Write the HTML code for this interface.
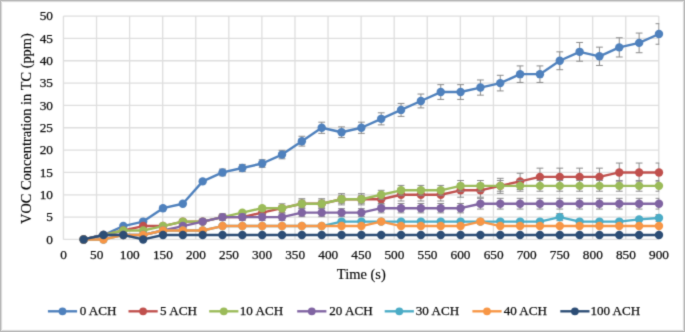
<!DOCTYPE html>
<html><head><meta charset="utf-8"><style>
html,body{margin:0;padding:0;background:#fff;}
body{width:685px;height:332px;overflow:hidden;}
svg{display:block;font-family:"Liberation Serif",serif;}
text{stroke-width:0.25px;}
</style></head><body>
<svg width="685" height="332" viewBox="0 0 685 332">
<rect x="0" y="0" width="685" height="332" fill="#fff"/>
<rect x="0.5" y="0.5" width="684" height="331" fill="none" stroke="#bababa" stroke-width="1"/>
<rect x="1.5" y="1.5" width="682" height="329" fill="none" stroke="#dadada" stroke-width="1"/>
<rect x="2.5" y="2.5" width="680" height="327" fill="none" stroke="#f6f6f6" stroke-width="1"/>
<defs><filter id="bl" x="0" y="0" width="685" height="332" filterUnits="userSpaceOnUse" color-interpolation-filters="sRGB"><feConvolveMatrix order="3" kernelMatrix="0.0192 0.1001 0.0192 0.1001 0.5228 0.1001 0.0192 0.1001 0.0192" divisor="1.0000" edgeMode="duplicate"/></filter></defs>
<g filter="url(#bl)">
<rect x="3" y="3" width="679" height="326" fill="#fff"/>
<path d="M63.45 16.10V239.45M96.53 16.10V239.45M129.60 16.10V239.45M162.68 16.10V239.45M195.75 16.10V239.45M228.82 16.10V239.45M261.90 16.10V239.45M294.98 16.10V239.45M328.05 16.10V239.45M361.12 16.10V239.45M394.20 16.10V239.45M427.27 16.10V239.45M460.35 16.10V239.45M493.42 16.10V239.45M526.50 16.10V239.45M559.58 16.10V239.45M592.65 16.10V239.45M625.73 16.10V239.45M658.80 16.10V239.45M63.45 239.45H658.80M63.45 217.11H658.80M63.45 194.78H658.80M63.45 172.44H658.80M63.45 150.11H658.80M63.45 127.77H658.80M63.45 105.44H658.80M63.45 83.10H658.80M63.45 60.77H658.80M63.45 38.44H658.80M63.45 16.10H658.80" stroke="#dedede" stroke-width="1.3" fill="none"/>
<defs><clipPath id="pc"><rect x="63.45" y="15.60" width="595.85" height="224.35"/></clipPath></defs>
<g>
<polyline points="83.64,239.45 103.48,234.98 123.32,226.05 143.16,221.58 163.00,208.18 182.83,203.71 202.67,181.38 222.51,172.44 242.35,167.98 262.19,163.51 282.03,154.58 301.87,141.18 321.71,127.77 341.55,132.24 361.38,127.77 381.22,118.84 401.06,109.91 420.90,100.97 440.74,92.04 460.58,92.04 480.42,87.57 500.26,83.10 520.10,74.17 539.94,74.17 559.77,60.77 579.61,51.84 599.45,56.30 619.29,47.37 639.13,42.90 658.97,33.97" fill="none" stroke="#4f81bd" stroke-width="2.4" stroke-linejoin="round" stroke-linecap="round"/>
<path d="M222.51 169.09V175.80M219.11 169.09H225.91M219.11 175.80H225.91M242.35 164.40V171.55M238.95 164.40H245.75M238.95 171.55H245.75M262.19 159.71V167.31M258.79 159.71H265.59M258.79 167.31H265.59M282.03 150.33V158.82M278.63 150.33H285.43M278.63 158.82H285.43M301.87 136.26V146.09M298.47 136.26H305.27M298.47 146.09H305.27M321.71 122.19V133.36M318.31 122.19H325.11M318.31 133.36H325.11M341.55 126.88V137.60M338.15 126.88H344.95M338.15 137.60H344.95M361.38 122.19V133.36M357.99 122.19H364.78M357.99 133.36H364.78M381.22 112.81V124.87M377.82 112.81H384.62M377.82 124.87H384.62M401.06 103.43V116.38M397.66 103.43H404.46M397.66 116.38H404.46M420.90 94.05V107.90M417.50 94.05H424.30M417.50 107.90H424.30M440.74 84.67V99.41M437.34 84.67H444.14M437.34 99.41H444.14M460.58 84.67V99.41M457.18 84.67H463.98M457.18 99.41H463.98M480.42 79.98V95.17M477.02 79.98H483.82M477.02 95.17H483.82M500.26 75.29V90.92M496.86 75.29H503.66M496.86 90.92H503.66M520.10 65.91V82.43M516.70 65.91H523.50M516.70 82.43H523.50M539.94 65.91V82.43M536.54 65.91H543.34M536.54 82.43H543.34M559.77 51.84V69.70M556.38 51.84H563.17M556.38 69.70H563.17M579.61 42.46V61.22M576.21 42.46H583.01M576.21 61.22H583.01M599.45 47.15V65.46M596.05 47.15H602.85M596.05 65.46H602.85M619.29 37.76V56.97M615.89 37.76H622.69M615.89 56.97H622.69M639.13 33.07V52.73M635.73 33.07H642.53M635.73 52.73H642.53M658.97 23.69V44.24M655.57 23.69H662.37M655.57 44.24H662.37" stroke="#8a8a8a" stroke-width="1" fill="none" clip-path="url(#pc)"/>
<g fill="#4f81bd"><circle cx="83.64" cy="239.45" r="4.2"/><circle cx="103.48" cy="234.98" r="4.2"/><circle cx="123.32" cy="226.05" r="4.2"/><circle cx="143.16" cy="221.58" r="4.2"/><circle cx="163.00" cy="208.18" r="4.2"/><circle cx="182.83" cy="203.71" r="4.2"/><circle cx="202.67" cy="181.38" r="4.2"/><circle cx="222.51" cy="172.44" r="4.2"/><circle cx="242.35" cy="167.98" r="4.2"/><circle cx="262.19" cy="163.51" r="4.2"/><circle cx="282.03" cy="154.58" r="4.2"/><circle cx="301.87" cy="141.18" r="4.2"/><circle cx="321.71" cy="127.77" r="4.2"/><circle cx="341.55" cy="132.24" r="4.2"/><circle cx="361.38" cy="127.77" r="4.2"/><circle cx="381.22" cy="118.84" r="4.2"/><circle cx="401.06" cy="109.91" r="4.2"/><circle cx="420.90" cy="100.97" r="4.2"/><circle cx="440.74" cy="92.04" r="4.2"/><circle cx="460.58" cy="92.04" r="4.2"/><circle cx="480.42" cy="87.57" r="4.2"/><circle cx="500.26" cy="83.10" r="4.2"/><circle cx="520.10" cy="74.17" r="4.2"/><circle cx="539.94" cy="74.17" r="4.2"/><circle cx="559.77" cy="60.77" r="4.2"/><circle cx="579.61" cy="51.84" r="4.2"/><circle cx="599.45" cy="56.30" r="4.2"/><circle cx="619.29" cy="47.37" r="4.2"/><circle cx="639.13" cy="42.90" r="4.2"/><circle cx="658.97" cy="33.97" r="4.2"/></g>
<polyline points="83.64,239.45 103.48,234.98 123.32,230.52 143.16,226.05 163.00,226.05 182.83,221.58 202.67,221.58 222.51,217.11 242.35,217.11 262.19,212.65 282.03,208.18 301.87,203.71 321.71,203.71 341.55,199.25 361.38,199.25 381.22,199.25 401.06,194.78 420.90,194.78 440.74,194.78 460.58,190.31 480.42,190.31 500.26,185.85 520.10,181.38 539.94,176.91 559.77,176.91 579.61,176.91 599.45,176.91 619.29,172.44 639.13,172.44 658.97,172.44" fill="none" stroke="#c0504d" stroke-width="2.4" stroke-linejoin="round" stroke-linecap="round"/>
<path d="M262.19 208.90V216.40M258.79 208.90H265.59M258.79 216.40H265.59M282.03 203.80V212.56M278.63 203.80H285.43M278.63 212.56H285.43M301.87 198.71V208.72M298.47 198.71H305.27M298.47 208.72H305.27M321.71 198.71V208.72M318.31 198.71H325.11M318.31 208.72H325.11M341.55 193.62V204.88M338.15 193.62H344.95M338.15 204.88H344.95M361.38 193.62V204.88M357.99 193.62H364.78M357.99 204.88H364.78M381.22 193.62V204.88M377.82 193.62H384.62M377.82 204.88H384.62M401.06 188.53V201.03M397.66 188.53H404.46M397.66 201.03H404.46M420.90 188.53V201.03M417.50 188.53H424.30M417.50 201.03H424.30M440.74 188.53V201.03M437.34 188.53H444.14M437.34 201.03H444.14M460.58 183.43V197.19M457.18 183.43H463.98M457.18 197.19H463.98M480.42 183.43V197.19M477.02 183.43H483.82M477.02 197.19H483.82M500.26 178.34V193.35M496.86 178.34H503.66M496.86 193.35H503.66M520.10 173.25V189.51M516.70 173.25H523.50M516.70 189.51H523.50M539.94 168.16V185.67M536.54 168.16H543.34M536.54 185.67H543.34M559.77 168.16V185.67M556.38 168.16H563.17M556.38 185.67H563.17M579.61 168.16V185.67M576.21 168.16H583.01M576.21 185.67H583.01M599.45 168.16V185.67M596.05 168.16H602.85M596.05 185.67H602.85M619.29 163.06V181.83M615.89 163.06H622.69M615.89 181.83H622.69M639.13 163.06V181.83M635.73 163.06H642.53M635.73 181.83H642.53M658.97 163.06V181.83M655.57 163.06H662.37M655.57 181.83H662.37" stroke="#8a8a8a" stroke-width="1" fill="none" clip-path="url(#pc)"/>
<g fill="#c0504d"><circle cx="83.64" cy="239.45" r="4.2"/><circle cx="103.48" cy="234.98" r="4.2"/><circle cx="123.32" cy="230.52" r="4.2"/><circle cx="143.16" cy="226.05" r="4.2"/><circle cx="163.00" cy="226.05" r="4.2"/><circle cx="182.83" cy="221.58" r="4.2"/><circle cx="202.67" cy="221.58" r="4.2"/><circle cx="222.51" cy="217.11" r="4.2"/><circle cx="242.35" cy="217.11" r="4.2"/><circle cx="262.19" cy="212.65" r="4.2"/><circle cx="282.03" cy="208.18" r="4.2"/><circle cx="301.87" cy="203.71" r="4.2"/><circle cx="321.71" cy="203.71" r="4.2"/><circle cx="341.55" cy="199.25" r="4.2"/><circle cx="361.38" cy="199.25" r="4.2"/><circle cx="381.22" cy="199.25" r="4.2"/><circle cx="401.06" cy="194.78" r="4.2"/><circle cx="420.90" cy="194.78" r="4.2"/><circle cx="440.74" cy="194.78" r="4.2"/><circle cx="460.58" cy="190.31" r="4.2"/><circle cx="480.42" cy="190.31" r="4.2"/><circle cx="500.26" cy="185.85" r="4.2"/><circle cx="520.10" cy="181.38" r="4.2"/><circle cx="539.94" cy="176.91" r="4.2"/><circle cx="559.77" cy="176.91" r="4.2"/><circle cx="579.61" cy="176.91" r="4.2"/><circle cx="599.45" cy="176.91" r="4.2"/><circle cx="619.29" cy="172.44" r="4.2"/><circle cx="639.13" cy="172.44" r="4.2"/><circle cx="658.97" cy="172.44" r="4.2"/></g>
<polyline points="83.64,239.45 103.48,234.98 123.32,230.52 143.16,230.52 163.00,226.05 182.83,221.58 202.67,221.58 222.51,217.11 242.35,212.65 262.19,208.18 282.03,208.18 301.87,203.71 321.71,203.71 341.55,199.25 361.38,199.25 381.22,194.78 401.06,190.31 420.90,190.31 440.74,190.31 460.58,185.85 480.42,185.85 500.26,185.85 520.10,185.85 539.94,185.85 559.77,185.85 579.61,185.85 599.45,185.85 619.29,185.85 639.13,185.85 658.97,185.85" fill="none" stroke="#9bbb59" stroke-width="2.4" stroke-linejoin="round" stroke-linecap="round"/>
<path d="M301.87 200.14V207.29M298.47 200.14H305.27M298.47 207.29H305.27M321.71 200.14V207.29M318.31 200.14H325.11M318.31 207.29H325.11M341.55 195.23V203.27M338.15 195.23H344.95M338.15 203.27H344.95M361.38 195.23V203.27M357.99 195.23H364.78M357.99 203.27H364.78M381.22 190.31V199.25M377.82 190.31H384.62M377.82 199.25H384.62M401.06 185.40V195.23M397.66 185.40H404.46M397.66 195.23H404.46M420.90 185.40V195.23M417.50 185.40H424.30M417.50 195.23H424.30M440.74 185.40V195.23M437.34 185.40H444.14M437.34 195.23H444.14M460.58 180.49V191.21M457.18 180.49H463.98M457.18 191.21H463.98M480.42 180.49V191.21M477.02 180.49H483.82M477.02 191.21H483.82M500.26 180.49V191.21M496.86 180.49H503.66M496.86 191.21H503.66M520.10 180.49V191.21M516.70 180.49H523.50M516.70 191.21H523.50M539.94 180.49V191.21M536.54 180.49H543.34M536.54 191.21H543.34M559.77 180.49V191.21M556.38 180.49H563.17M556.38 191.21H563.17M579.61 180.49V191.21M576.21 180.49H583.01M576.21 191.21H583.01M599.45 180.49V191.21M596.05 180.49H602.85M596.05 191.21H602.85M619.29 180.49V191.21M615.89 180.49H622.69M615.89 191.21H622.69M639.13 180.49V191.21M635.73 180.49H642.53M635.73 191.21H642.53M658.97 180.49V191.21M655.57 180.49H662.37M655.57 191.21H662.37" stroke="#8a8a8a" stroke-width="1" fill="none" clip-path="url(#pc)"/>
<g fill="#9bbb59"><circle cx="83.64" cy="239.45" r="4.2"/><circle cx="103.48" cy="234.98" r="4.2"/><circle cx="123.32" cy="230.52" r="4.2"/><circle cx="143.16" cy="230.52" r="4.2"/><circle cx="163.00" cy="226.05" r="4.2"/><circle cx="182.83" cy="221.58" r="4.2"/><circle cx="202.67" cy="221.58" r="4.2"/><circle cx="222.51" cy="217.11" r="4.2"/><circle cx="242.35" cy="212.65" r="4.2"/><circle cx="262.19" cy="208.18" r="4.2"/><circle cx="282.03" cy="208.18" r="4.2"/><circle cx="301.87" cy="203.71" r="4.2"/><circle cx="321.71" cy="203.71" r="4.2"/><circle cx="341.55" cy="199.25" r="4.2"/><circle cx="361.38" cy="199.25" r="4.2"/><circle cx="381.22" cy="194.78" r="4.2"/><circle cx="401.06" cy="190.31" r="4.2"/><circle cx="420.90" cy="190.31" r="4.2"/><circle cx="440.74" cy="190.31" r="4.2"/><circle cx="460.58" cy="185.85" r="4.2"/><circle cx="480.42" cy="185.85" r="4.2"/><circle cx="500.26" cy="185.85" r="4.2"/><circle cx="520.10" cy="185.85" r="4.2"/><circle cx="539.94" cy="185.85" r="4.2"/><circle cx="559.77" cy="185.85" r="4.2"/><circle cx="579.61" cy="185.85" r="4.2"/><circle cx="599.45" cy="185.85" r="4.2"/><circle cx="619.29" cy="185.85" r="4.2"/><circle cx="639.13" cy="185.85" r="4.2"/><circle cx="658.97" cy="185.85" r="4.2"/></g>
<polyline points="83.64,239.45 103.48,234.98 123.32,234.98 143.16,234.98 163.00,230.52 182.83,226.05 202.67,221.58 222.51,217.11 242.35,217.11 262.19,217.11 282.03,217.11 301.87,212.65 321.71,212.65 341.55,212.65 361.38,212.65 381.22,208.18 401.06,208.18 420.90,208.18 440.74,208.18 460.58,208.18 480.42,203.71 500.26,203.71 520.10,203.71 539.94,203.71 559.77,203.71 579.61,203.71 599.45,203.71 619.29,203.71 639.13,203.71 658.97,203.71" fill="none" stroke="#8064a2" stroke-width="2.4" stroke-linejoin="round" stroke-linecap="round"/>
<path d="M222.51 213.76V220.47M219.11 213.76H225.91M219.11 220.47H225.91M242.35 213.76V220.47M238.95 213.76H245.75M238.95 220.47H245.75M262.19 213.76V220.47M258.79 213.76H265.59M258.79 220.47H265.59M282.03 213.76V220.47M278.63 213.76H285.43M278.63 220.47H285.43M301.87 208.63V216.67M298.47 208.63H305.27M298.47 216.67H305.27M321.71 208.63V216.67M318.31 208.63H325.11M318.31 216.67H325.11M341.55 208.63V216.67M338.15 208.63H344.95M338.15 216.67H344.95M361.38 208.63V216.67M357.99 208.63H364.78M357.99 216.67H364.78M381.22 203.49V212.87M377.82 203.49H384.62M377.82 212.87H384.62M401.06 203.49V212.87M397.66 203.49H404.46M397.66 212.87H404.46M420.90 203.49V212.87M417.50 203.49H424.30M417.50 212.87H424.30M440.74 203.49V212.87M437.34 203.49H444.14M437.34 212.87H444.14M460.58 203.49V212.87M457.18 203.49H463.98M457.18 212.87H463.98M480.42 198.35V209.07M477.02 198.35H483.82M477.02 209.07H483.82M500.26 198.35V209.07M496.86 198.35H503.66M496.86 209.07H503.66M520.10 198.35V209.07M516.70 198.35H523.50M516.70 209.07H523.50M539.94 198.35V209.07M536.54 198.35H543.34M536.54 209.07H543.34M559.77 198.35V209.07M556.38 198.35H563.17M556.38 209.07H563.17M579.61 198.35V209.07M576.21 198.35H583.01M576.21 209.07H583.01M599.45 198.35V209.07M596.05 198.35H602.85M596.05 209.07H602.85M619.29 198.35V209.07M615.89 198.35H622.69M615.89 209.07H622.69M639.13 198.35V209.07M635.73 198.35H642.53M635.73 209.07H642.53M658.97 198.35V209.07M655.57 198.35H662.37M655.57 209.07H662.37" stroke="#8a8a8a" stroke-width="1" fill="none" clip-path="url(#pc)"/>
<g fill="#8064a2"><circle cx="83.64" cy="239.45" r="4.2"/><circle cx="103.48" cy="234.98" r="4.2"/><circle cx="123.32" cy="234.98" r="4.2"/><circle cx="143.16" cy="234.98" r="4.2"/><circle cx="163.00" cy="230.52" r="4.2"/><circle cx="182.83" cy="226.05" r="4.2"/><circle cx="202.67" cy="221.58" r="4.2"/><circle cx="222.51" cy="217.11" r="4.2"/><circle cx="242.35" cy="217.11" r="4.2"/><circle cx="262.19" cy="217.11" r="4.2"/><circle cx="282.03" cy="217.11" r="4.2"/><circle cx="301.87" cy="212.65" r="4.2"/><circle cx="321.71" cy="212.65" r="4.2"/><circle cx="341.55" cy="212.65" r="4.2"/><circle cx="361.38" cy="212.65" r="4.2"/><circle cx="381.22" cy="208.18" r="4.2"/><circle cx="401.06" cy="208.18" r="4.2"/><circle cx="420.90" cy="208.18" r="4.2"/><circle cx="440.74" cy="208.18" r="4.2"/><circle cx="460.58" cy="208.18" r="4.2"/><circle cx="480.42" cy="203.71" r="4.2"/><circle cx="500.26" cy="203.71" r="4.2"/><circle cx="520.10" cy="203.71" r="4.2"/><circle cx="539.94" cy="203.71" r="4.2"/><circle cx="559.77" cy="203.71" r="4.2"/><circle cx="579.61" cy="203.71" r="4.2"/><circle cx="599.45" cy="203.71" r="4.2"/><circle cx="619.29" cy="203.71" r="4.2"/><circle cx="639.13" cy="203.71" r="4.2"/><circle cx="658.97" cy="203.71" r="4.2"/></g>
<polyline points="83.64,239.45 103.48,239.45 123.32,234.98 143.16,234.98 163.00,230.52 182.83,230.52 202.67,230.52 222.51,226.05 242.35,226.05 262.19,226.05 282.03,226.05 301.87,226.05 321.71,226.05 341.55,221.58 361.38,221.58 381.22,221.58 401.06,221.58 420.90,221.58 440.74,221.58 460.58,221.58 480.42,221.58 500.26,221.58 520.10,221.58 539.94,221.58 559.77,217.11 579.61,221.58 599.45,221.58 619.29,221.58 639.13,219.35 658.97,218.01" fill="none" stroke="#4bacc6" stroke-width="2.4" stroke-linejoin="round" stroke-linecap="round"/>
<path d="M559.77 213.54V220.69M556.38 213.54H563.17M556.38 220.69H563.17M658.97 214.58V221.44M655.57 214.58H662.37M655.57 221.44H662.37" stroke="#8a8a8a" stroke-width="1" fill="none" clip-path="url(#pc)"/>
<g fill="#4bacc6"><circle cx="83.64" cy="239.45" r="4.2"/><circle cx="103.48" cy="239.45" r="4.2"/><circle cx="123.32" cy="234.98" r="4.2"/><circle cx="143.16" cy="234.98" r="4.2"/><circle cx="163.00" cy="230.52" r="4.2"/><circle cx="182.83" cy="230.52" r="4.2"/><circle cx="202.67" cy="230.52" r="4.2"/><circle cx="222.51" cy="226.05" r="4.2"/><circle cx="242.35" cy="226.05" r="4.2"/><circle cx="262.19" cy="226.05" r="4.2"/><circle cx="282.03" cy="226.05" r="4.2"/><circle cx="301.87" cy="226.05" r="4.2"/><circle cx="321.71" cy="226.05" r="4.2"/><circle cx="341.55" cy="221.58" r="4.2"/><circle cx="361.38" cy="221.58" r="4.2"/><circle cx="381.22" cy="221.58" r="4.2"/><circle cx="401.06" cy="221.58" r="4.2"/><circle cx="420.90" cy="221.58" r="4.2"/><circle cx="440.74" cy="221.58" r="4.2"/><circle cx="460.58" cy="221.58" r="4.2"/><circle cx="480.42" cy="221.58" r="4.2"/><circle cx="500.26" cy="221.58" r="4.2"/><circle cx="520.10" cy="221.58" r="4.2"/><circle cx="539.94" cy="221.58" r="4.2"/><circle cx="559.77" cy="217.11" r="4.2"/><circle cx="579.61" cy="221.58" r="4.2"/><circle cx="599.45" cy="221.58" r="4.2"/><circle cx="619.29" cy="221.58" r="4.2"/><circle cx="639.13" cy="219.35" r="4.2"/><circle cx="658.97" cy="218.01" r="4.2"/></g>
<polyline points="83.64,239.45 103.48,239.45 123.32,234.98 143.16,234.98 163.00,230.52 182.83,230.52 202.67,230.52 222.51,226.05 242.35,226.05 262.19,226.05 282.03,226.05 301.87,226.05 321.71,226.05 341.55,226.05 361.38,226.05 381.22,221.58 401.06,226.05 420.90,226.05 440.74,226.05 460.58,226.05 480.42,221.58 500.26,226.05 520.10,226.05 539.94,226.05 559.77,226.05 579.61,226.05 599.45,226.05 619.29,226.05 639.13,226.05 658.97,226.05" fill="none" stroke="#f79646" stroke-width="2.4" stroke-linejoin="round" stroke-linecap="round"/>
<g fill="#f79646"><circle cx="83.64" cy="239.45" r="4.2"/><circle cx="103.48" cy="239.45" r="4.2"/><circle cx="123.32" cy="234.98" r="4.2"/><circle cx="143.16" cy="234.98" r="4.2"/><circle cx="163.00" cy="230.52" r="4.2"/><circle cx="182.83" cy="230.52" r="4.2"/><circle cx="202.67" cy="230.52" r="4.2"/><circle cx="222.51" cy="226.05" r="4.2"/><circle cx="242.35" cy="226.05" r="4.2"/><circle cx="262.19" cy="226.05" r="4.2"/><circle cx="282.03" cy="226.05" r="4.2"/><circle cx="301.87" cy="226.05" r="4.2"/><circle cx="321.71" cy="226.05" r="4.2"/><circle cx="341.55" cy="226.05" r="4.2"/><circle cx="361.38" cy="226.05" r="4.2"/><circle cx="381.22" cy="221.58" r="4.2"/><circle cx="401.06" cy="226.05" r="4.2"/><circle cx="420.90" cy="226.05" r="4.2"/><circle cx="440.74" cy="226.05" r="4.2"/><circle cx="460.58" cy="226.05" r="4.2"/><circle cx="480.42" cy="221.58" r="4.2"/><circle cx="500.26" cy="226.05" r="4.2"/><circle cx="520.10" cy="226.05" r="4.2"/><circle cx="539.94" cy="226.05" r="4.2"/><circle cx="559.77" cy="226.05" r="4.2"/><circle cx="579.61" cy="226.05" r="4.2"/><circle cx="599.45" cy="226.05" r="4.2"/><circle cx="619.29" cy="226.05" r="4.2"/><circle cx="639.13" cy="226.05" r="4.2"/><circle cx="658.97" cy="226.05" r="4.2"/></g>
<polyline points="83.64,239.45 103.48,234.98 123.32,234.98 143.16,239.45 163.00,234.98 182.83,234.98 202.67,234.98 222.51,234.98 242.35,234.98 262.19,234.98 282.03,234.98 301.87,234.98 321.71,234.98 341.55,234.98 361.38,234.98 381.22,234.98 401.06,234.98 420.90,234.98 440.74,234.98 460.58,234.98 480.42,234.98 500.26,234.98 520.10,234.98 539.94,234.98 559.77,234.98 579.61,234.98 599.45,234.98 619.29,234.98 639.13,234.98 658.97,234.98" fill="none" stroke="#2c4d75" stroke-width="2.4" stroke-linejoin="round" stroke-linecap="round"/>
<g fill="#2c4d75"><circle cx="83.64" cy="239.45" r="4.2"/><circle cx="103.48" cy="234.98" r="4.2"/><circle cx="123.32" cy="234.98" r="4.2"/><circle cx="143.16" cy="239.45" r="4.2"/><circle cx="163.00" cy="234.98" r="4.2"/><circle cx="182.83" cy="234.98" r="4.2"/><circle cx="202.67" cy="234.98" r="4.2"/><circle cx="222.51" cy="234.98" r="4.2"/><circle cx="242.35" cy="234.98" r="4.2"/><circle cx="262.19" cy="234.98" r="4.2"/><circle cx="282.03" cy="234.98" r="4.2"/><circle cx="301.87" cy="234.98" r="4.2"/><circle cx="321.71" cy="234.98" r="4.2"/><circle cx="341.55" cy="234.98" r="4.2"/><circle cx="361.38" cy="234.98" r="4.2"/><circle cx="381.22" cy="234.98" r="4.2"/><circle cx="401.06" cy="234.98" r="4.2"/><circle cx="420.90" cy="234.98" r="4.2"/><circle cx="440.74" cy="234.98" r="4.2"/><circle cx="460.58" cy="234.98" r="4.2"/><circle cx="480.42" cy="234.98" r="4.2"/><circle cx="500.26" cy="234.98" r="4.2"/><circle cx="520.10" cy="234.98" r="4.2"/><circle cx="539.94" cy="234.98" r="4.2"/><circle cx="559.77" cy="234.98" r="4.2"/><circle cx="579.61" cy="234.98" r="4.2"/><circle cx="599.45" cy="234.98" r="4.2"/><circle cx="619.29" cy="234.98" r="4.2"/><circle cx="639.13" cy="234.98" r="4.2"/><circle cx="658.97" cy="234.98" r="4.2"/></g>
</g>
<text x="53" y="243.75" font-size="13.3" text-anchor="end" fill="#0d0d0d" stroke="#0d0d0d">0</text>
<text x="53" y="221.41" font-size="13.3" text-anchor="end" fill="#0d0d0d" stroke="#0d0d0d">5</text>
<text x="53" y="199.08" font-size="13.3" text-anchor="end" fill="#0d0d0d" stroke="#0d0d0d">10</text>
<text x="53" y="176.75" font-size="13.3" text-anchor="end" fill="#0d0d0d" stroke="#0d0d0d">15</text>
<text x="53" y="154.41" font-size="13.3" text-anchor="end" fill="#0d0d0d" stroke="#0d0d0d">20</text>
<text x="53" y="132.07" font-size="13.3" text-anchor="end" fill="#0d0d0d" stroke="#0d0d0d">25</text>
<text x="53" y="109.74" font-size="13.3" text-anchor="end" fill="#0d0d0d" stroke="#0d0d0d">30</text>
<text x="53" y="87.40" font-size="13.3" text-anchor="end" fill="#0d0d0d" stroke="#0d0d0d">35</text>
<text x="53" y="65.07" font-size="13.3" text-anchor="end" fill="#0d0d0d" stroke="#0d0d0d">40</text>
<text x="53" y="42.73" font-size="13.3" text-anchor="end" fill="#0d0d0d" stroke="#0d0d0d">45</text>
<text x="53" y="20.40" font-size="13.3" text-anchor="end" fill="#0d0d0d" stroke="#0d0d0d">50</text>
<text x="63.65" y="259.4" font-size="13.3" text-anchor="middle" fill="#0d0d0d" stroke="#0d0d0d">0</text>
<text x="96.73" y="259.4" font-size="13.3" text-anchor="middle" fill="#0d0d0d" stroke="#0d0d0d">50</text>
<text x="129.80" y="259.4" font-size="13.3" text-anchor="middle" fill="#0d0d0d" stroke="#0d0d0d">100</text>
<text x="162.88" y="259.4" font-size="13.3" text-anchor="middle" fill="#0d0d0d" stroke="#0d0d0d">150</text>
<text x="195.95" y="259.4" font-size="13.3" text-anchor="middle" fill="#0d0d0d" stroke="#0d0d0d">200</text>
<text x="229.02" y="259.4" font-size="13.3" text-anchor="middle" fill="#0d0d0d" stroke="#0d0d0d">250</text>
<text x="262.10" y="259.4" font-size="13.3" text-anchor="middle" fill="#0d0d0d" stroke="#0d0d0d">300</text>
<text x="295.18" y="259.4" font-size="13.3" text-anchor="middle" fill="#0d0d0d" stroke="#0d0d0d">350</text>
<text x="328.25" y="259.4" font-size="13.3" text-anchor="middle" fill="#0d0d0d" stroke="#0d0d0d">400</text>
<text x="361.32" y="259.4" font-size="13.3" text-anchor="middle" fill="#0d0d0d" stroke="#0d0d0d">450</text>
<text x="394.40" y="259.4" font-size="13.3" text-anchor="middle" fill="#0d0d0d" stroke="#0d0d0d">500</text>
<text x="427.47" y="259.4" font-size="13.3" text-anchor="middle" fill="#0d0d0d" stroke="#0d0d0d">550</text>
<text x="460.55" y="259.4" font-size="13.3" text-anchor="middle" fill="#0d0d0d" stroke="#0d0d0d">600</text>
<text x="493.62" y="259.4" font-size="13.3" text-anchor="middle" fill="#0d0d0d" stroke="#0d0d0d">650</text>
<text x="526.70" y="259.4" font-size="13.3" text-anchor="middle" fill="#0d0d0d" stroke="#0d0d0d">700</text>
<text x="559.78" y="259.4" font-size="13.3" text-anchor="middle" fill="#0d0d0d" stroke="#0d0d0d">750</text>
<text x="592.85" y="259.4" font-size="13.3" text-anchor="middle" fill="#0d0d0d" stroke="#0d0d0d">800</text>
<text x="625.93" y="259.4" font-size="13.3" text-anchor="middle" fill="#0d0d0d" stroke="#0d0d0d">850</text>
<text x="659.00" y="259.4" font-size="13.3" text-anchor="middle" fill="#0d0d0d" stroke="#0d0d0d">900</text>
<text x="361.3" y="279" font-size="14.5" text-anchor="middle" fill="#000" stroke="#000" style="stroke-width:0.12px">Time (s)</text>
<text transform="translate(31.3 128.6) rotate(-90)" font-size="14.4" text-anchor="middle" fill="#000" stroke="#000" style="stroke-width:0.12px">VOC Concentration in TC (ppm)</text>
<path d="M47.90 311.3H77.10" stroke="#4f81bd" stroke-width="2.4"/><circle cx="62.50" cy="311.3" r="3.9" fill="#4f81bd"/><text x="79.70" y="315.4" font-size="13.1" fill="#0d0d0d" stroke="#0d0d0d">0 ACH</text>
<path d="M128.50 311.3H157.70" stroke="#c0504d" stroke-width="2.4"/><circle cx="143.10" cy="311.3" r="3.9" fill="#c0504d"/><text x="160.10" y="315.4" font-size="13.1" fill="#0d0d0d" stroke="#0d0d0d">5 ACH</text>
<path d="M209.20 311.3H238.40" stroke="#9bbb59" stroke-width="2.4"/><circle cx="223.80" cy="311.3" r="3.9" fill="#9bbb59"/><text x="239.80" y="315.4" font-size="13.1" fill="#0d0d0d" stroke="#0d0d0d">10 ACH</text>
<path d="M297.20 311.3H326.40" stroke="#8064a2" stroke-width="2.4"/><circle cx="311.80" cy="311.3" r="3.9" fill="#8064a2"/><text x="329.30" y="315.4" font-size="13.1" fill="#0d0d0d" stroke="#0d0d0d">20 ACH</text>
<path d="M384.70 311.3H413.90" stroke="#4bacc6" stroke-width="2.4"/><circle cx="399.30" cy="311.3" r="3.9" fill="#4bacc6"/><text x="415.80" y="315.4" font-size="13.1" fill="#0d0d0d" stroke="#0d0d0d">30 ACH</text>
<path d="M472.40 311.3H501.60" stroke="#f79646" stroke-width="2.4"/><circle cx="487.00" cy="311.3" r="3.9" fill="#f79646"/><text x="503.70" y="315.4" font-size="13.1" fill="#0d0d0d" stroke="#0d0d0d">40 ACH</text>
<path d="M560.30 311.3H589.50" stroke="#2c4d75" stroke-width="2.4"/><circle cx="574.90" cy="311.3" r="3.9" fill="#2c4d75"/><text x="590.40" y="315.4" font-size="13.1" fill="#0d0d0d" stroke="#0d0d0d">100 ACH</text>
</g>
</svg>
</body></html>
